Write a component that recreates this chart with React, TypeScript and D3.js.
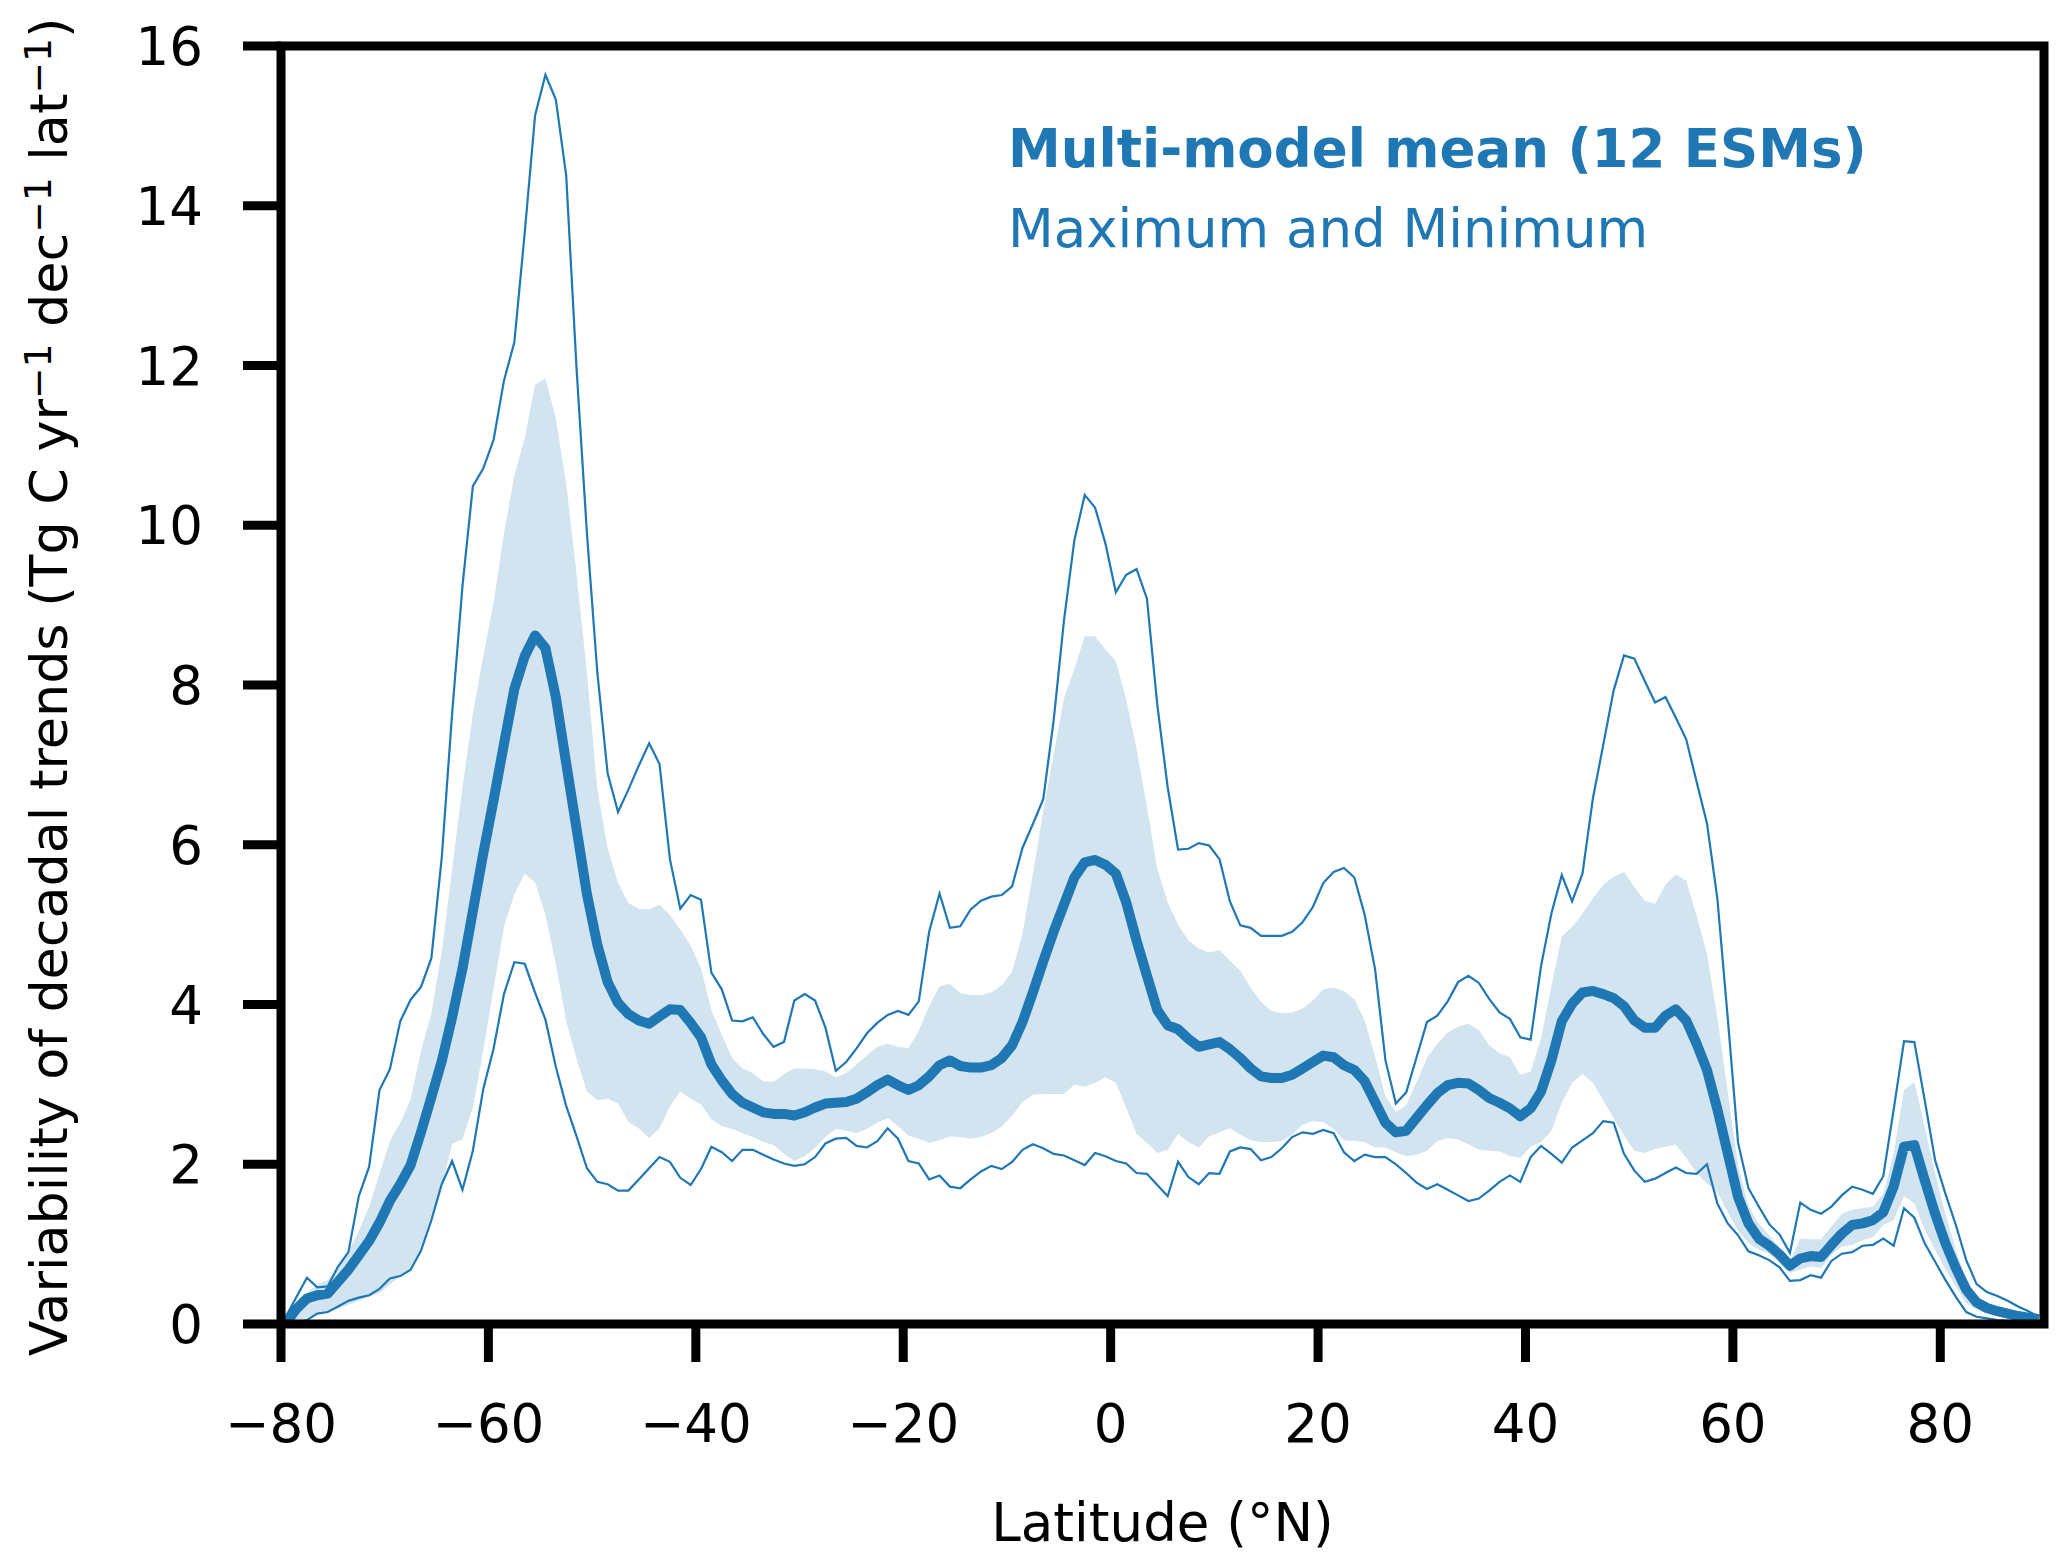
import * as d3 from "d3";

// latitude grid, 1 degree, cell centres
const lats = d3.range(-79.5, 90, 1);

const maxVals = [
  0.1, 0.34, 0.58, 0.46, 0.47, 0.72, 0.9, 1.6, 1.97, 2.93, 3.19, 3.79, 4.06, 4.22, 4.58, 5.84, 7.64, 9.24, 10.49, 10.71,
  11.07, 11.81, 12.29, 13.66, 15.13, 15.64, 15.33, 14.38, 11.96, 9.9, 8.16,
  6.89, 6.41, 6.69, 6.99, 7.27, 7.01, 5.82, 5.2, 5.37, 5.31, 4.4, 4.19, 3.8, 3.79, 3.84, 3.63, 3.47, 3.53, 4.05, 4.13,
  4.05, 3.71, 3.17, 3.28, 3.45, 3.64, 3.77, 3.87, 3.92, 3.87,
  4.04, 4.91, 5.39, 4.96, 4.98, 5.19, 5.3, 5.35, 5.37, 5.48, 5.96, 6.26, 6.57, 7.55, 8.81, 9.81, 10.38, 10.22, 9.77, 9.16,
  9.38, 9.45, 9.08, 7.75, 6.72, 5.94, 5.95, 6.02, 5.99, 5.82,
  5.29, 4.99, 4.96, 4.86, 4.86, 4.86, 4.91, 5.03, 5.22, 5.52, 5.66, 5.71, 5.59, 5.12, 4.44, 3.3, 2.76, 2.9, 3.34, 3.78,
  3.86, 4.04, 4.28, 4.36, 4.27, 4.07, 3.9, 3.82, 3.59, 3.56,
  4.48, 5.14, 5.62, 5.29, 5.64, 6.58, 7.25, 7.93, 8.37, 8.33, 8.05, 7.78, 7.85, 7.59, 7.32, 6.79, 6.27, 5.33, 3.84, 2.27,
  1.7, 1.47, 1.25, 1.12, 0.89,
  1.52, 1.43, 1.38, 1.47, 1.61, 1.72, 1.68, 1.63, 1.85, 2.68, 3.54, 3.53, 2.8, 2.05, 1.63, 1.24, 0.8, 0.5, 0.4, 0.35,
  0.29, 0.22, 0.16, 0.09,
];

const minVals = [
  0, 0.02, 0.05, 0.13, 0.15, 0.22, 0.29, 0.33, 0.36, 0.44, 0.57, 0.6, 0.68, 0.92, 1.3, 1.75, 2.04, 1.68, 2.17, 2.94,
  3.45, 4.13, 4.53, 4.51, 4.15, 3.81, 3.22, 2.73, 2.35, 1.95, 1.78,
  1.75, 1.67, 1.67, 1.81, 1.95, 2.09, 2.03, 1.83, 1.74, 1.94, 2.22, 2.15, 2.04, 2.18, 2.18, 2.12, 2.06, 2.01, 1.98, 2.0,
  2.09, 2.26, 2.32, 2.33, 2.23, 2.21, 2.29, 2.45, 2.32, 2.04,
  2.01, 1.81, 1.86, 1.72, 1.7, 1.81, 1.91, 1.98, 1.94, 2.03, 2.18, 2.25, 2.2, 2.13, 2.11, 2.05, 1.99, 2.14, 2.1, 2.04,
  2.01, 1.89, 1.88, 1.74, 1.6, 2.03, 1.84, 1.75, 1.89, 1.88,
  2.16, 2.21, 2.19, 2.05, 2.09, 2.2, 2.34, 2.4, 2.38, 2.43, 2.39, 2.15, 2.04, 2.12, 2.09, 2.09, 2.0, 1.89, 1.77, 1.69,
  1.75, 1.68, 1.61, 1.54, 1.57, 1.67, 1.78, 1.86, 1.78, 2.09,
  2.23, 2.13, 2.02, 2.21, 2.3, 2.39, 2.54, 2.52, 2.13, 1.92, 1.78, 1.82, 1.89, 1.96, 1.89, 1.88, 2.0, 1.51, 1.26, 1.11,
  0.91, 0.86, 0.8, 0.71, 0.54,
  0.55, 0.61, 0.58, 0.79, 0.88, 0.9, 0.98, 0.99, 1.07, 0.98, 1.45, 1.33, 1.01, 0.78, 0.55, 0.34, 0.15, 0.09, 0.07, 0.05,
  0.04, 0.03, 0.02, 0.01,
];

const meanVals = [
  0.02, 0.19, 0.32, 0.36, 0.38, 0.53, 0.68, 0.86, 1.04, 1.27, 1.54, 1.75, 1.99, 2.4, 2.84, 3.29, 3.84, 4.45, 5.17, 5.89,
  6.56, 7.26, 7.95, 8.36, 8.62, 8.46, 7.85, 7.02, 6.2, 5.38, 4.75,
  4.28, 4.02, 3.88, 3.8, 3.76, 3.85, 3.94, 3.93, 3.77, 3.59, 3.25, 3.05, 2.88, 2.77, 2.71, 2.65, 2.63, 2.63, 2.61, 2.65,
  2.71, 2.76, 2.77, 2.78, 2.82, 2.9, 2.99, 3.06, 2.99, 2.93,
  2.99, 3.1, 3.24, 3.3, 3.23, 3.21, 3.21, 3.24, 3.33, 3.49, 3.78, 4.15, 4.54, 4.91, 5.25, 5.59, 5.78, 5.81, 5.75, 5.64,
  5.28, 4.8, 4.36, 3.93, 3.74, 3.69, 3.57, 3.47, 3.5, 3.53,
  3.44, 3.33, 3.2, 3.1, 3.08, 3.08, 3.12, 3.2, 3.28, 3.36, 3.34, 3.24, 3.18, 3.04, 2.78, 2.52, 2.4, 2.42, 2.58, 2.74,
  2.89, 2.99, 3.02, 3.01, 2.93, 2.83, 2.77, 2.7, 2.6, 2.7,
  2.91, 3.3, 3.79, 4.01, 4.15, 4.17, 4.13, 4.08, 3.98, 3.8, 3.71, 3.71, 3.86, 3.94, 3.8, 3.51, 3.18, 2.69, 2.14, 1.59,
  1.26, 1.07, 0.98, 0.87, 0.73,
  0.82, 0.85, 0.84, 0.99, 1.13, 1.24, 1.26, 1.3, 1.4, 1.72, 2.22, 2.24, 1.8, 1.38, 1.01, 0.7, 0.43, 0.27, 0.2, 0.16,
  0.13, 0.1, 0.08, 0.06,
];

const bandHigh = [
  0.02, 0.24, 0.39, 0.49, 0.55, 0.7, 0.91, 1.16, 1.47, 1.88, 2.29, 2.52, 2.81, 3.42, 3.89, 4.66, 5.69, 6.72, 7.64, 8.36,
  9.03, 9.9, 10.62, 11.09, 11.76, 11.84, 11.34, 10.52, 9.39, 8.16, 6.7,
  5.95, 5.52, 5.27, 5.2, 5.19, 5.25, 5.12, 4.94, 4.74, 4.45, 3.93, 3.62, 3.33, 3.2, 3.14, 3.04, 3.03, 3.13, 3.2, 3.2,
  3.19, 3.16, 3.09, 3.14, 3.25, 3.36, 3.47, 3.51, 3.47, 3.45,
  3.67, 3.98, 4.23, 4.26, 4.14, 4.12, 4.12, 4.15, 4.24, 4.41, 4.89, 5.63, 6.42, 7.13, 7.83, 8.2, 8.61, 8.61, 8.44, 8.3,
  7.82, 7.2, 6.48, 5.7, 5.28, 5.0, 4.8, 4.7, 4.65, 4.68,
  4.55, 4.42, 4.21, 4.03, 3.92, 3.89, 3.9, 3.95, 4.05, 4.19, 4.21, 4.17, 4.07, 3.8, 3.35, 2.85, 2.65, 2.74, 3.03, 3.33,
  3.51, 3.65, 3.72, 3.76, 3.68, 3.49, 3.39, 3.34, 3.12, 3.16,
  3.57, 4.23, 4.85, 4.97, 5.14, 5.33, 5.5, 5.6, 5.66, 5.47, 5.3, 5.26, 5.5, 5.63, 5.55, 5.11, 4.64, 3.84, 2.91, 1.98,
  1.48, 1.26, 1.11, 0.96, 0.79,
  1.07, 1.06, 1.06, 1.22, 1.38, 1.43, 1.45, 1.47, 1.63, 2.13, 2.93, 3.03, 2.47, 1.88, 1.38, 0.93, 0.55, 0.34, 0.27, 0.22,
  0.18, 0.13, 0.1, 0.07,
];

const bandLow = [
  0, 0.02, 0.08, 0.13, 0.16, 0.19, 0.24, 0.29, 0.34, 0.39, 0.49, 0.6, 0.7, 0.96, 1.37, 1.73, 2.26, 2.31, 2.71, 3.42,
  4.2, 4.97, 5.38, 5.64, 5.53, 5.12, 4.51, 3.79, 3.32, 2.91, 2.8,
  2.82, 2.76, 2.53, 2.45, 2.33, 2.45, 2.73, 2.91, 2.82, 2.75, 2.56, 2.48, 2.44, 2.39, 2.34, 2.28, 2.24, 2.13, 2.04, 2.1,
  2.21, 2.34, 2.44, 2.42, 2.39, 2.44, 2.52, 2.58, 2.48, 2.36,
  2.32, 2.27, 2.3, 2.35, 2.34, 2.32, 2.34, 2.39, 2.47, 2.61, 2.78, 2.87, 2.88, 2.88, 2.88, 3.0, 2.97, 3.02, 3.09, 3.02,
  2.71, 2.38, 2.27, 2.14, 2.18, 2.38, 2.28, 2.21, 2.35, 2.4,
  2.45, 2.37, 2.3, 2.28, 2.28, 2.29, 2.37, 2.49, 2.54, 2.53, 2.44, 2.3, 2.29, 2.28, 2.21, 2.21, 2.15, 2.1, 2.12, 2.17,
  2.29, 2.33, 2.31, 2.25, 2.18, 2.17, 2.16, 2.1, 2.08, 2.22,
  2.28, 2.42, 2.77, 3.02, 3.13, 3.02, 2.8, 2.58, 2.36, 2.17, 2.14, 2.19, 2.22, 2.24, 2.08, 1.89, 1.76, 1.65, 1.4, 1.17,
  1.01, 0.93, 0.88, 0.76, 0.64,
  0.68, 0.72, 0.7, 0.86, 0.97, 0.99, 1.05, 1.09, 1.24, 1.3, 1.6, 1.51, 1.18, 0.93, 0.68, 0.47, 0.26, 0.18, 0.13, 0.1,
  0.08, 0.06, 0.05, 0.04,
];

const xTicks = [-80, -60, -40, -20, 0, 20, 40, 60, 80];
const yTicks = [0, 2, 4, 6, 8, 10, 12, 14, 16];

const W = 2067;
const H = 1565;
const margin = { top: 46, right: 23, bottom: 241, left: 281 };
const C0 = "#1f77b4";
const FONT = "'DejaVu Sans', sans-serif";

const fmt = (v: number) => (v < 0 ? "\u2212" + Math.abs(v) : String(v));

export default function App() {
  const x = d3.scaleLinear().domain([-80, 90]).range([margin.left, W - margin.right]);
  const y = d3.scaleLinear().domain([0, 16]).range([H - margin.bottom, margin.top]);

  const idx = lats.map((_, i) => i);
  const band = d3
    .area<number>()
    .x((i) => x(lats[i]))
    .y0((i) => y(bandLow[i]))
    .y1((i) => y(bandHigh[i]));
  const line = (vals: number[]) =>
    d3
      .line<number>()
      .x((i) => x(lats[i]))
      .y((i) => y(vals[i]))(idx)!;

  const x0 = x(-80);
  const x1 = x(90);
  const y0 = y(0);
  const y1 = y(16);
  const tickLen = 38;
  // superscript, then drop back to the baseline (with optional trailing text)
  const sup = (t: string, after: string) => (
    <>
      <tspan dy="-0.42em" fontSize="0.72em">
        {t}
      </tspan>
      <tspan dy="0.3em">{after}</tspan>
    </>
  );

  return (
    <svg
      width={W}
      height={H}
      style={{ position: "absolute", left: 0, top: 0, background: "#fff" }}
      fontFamily={FONT}
    >
      <defs>
        <clipPath id="plot">
          <rect x={x0} y={y1} width={x1 - x0} height={y0 - y1} />
        </clipPath>
      </defs>

      <g clipPath="url(#plot)">
        <path d={band(idx)!} fill={C0} fillOpacity={0.2} />
        <path d={line(maxVals)} fill="none" stroke={C0} strokeWidth={2.2} />
        <path d={line(minVals)} fill="none" stroke={C0} strokeWidth={2.2} />
        <path d={line(meanVals)} fill="none" stroke={C0} strokeWidth={10} strokeLinejoin="round" />
      </g>

      {/* frame */}
      <rect x={x0} y={y1} width={x1 - x0} height={y0 - y1} fill="none" stroke="#000" strokeWidth={9} />

      {/* y axis */}
      {yTicks.map((t) => (
        <g key={"y" + t}>
          <line x1={x0 - tickLen} x2={x0} y1={y(t)} y2={y(t)} stroke="#000" strokeWidth={9} />
          <text x={x0 - tickLen - 40} y={y(t)} dy="0.36em" textAnchor="end" fontSize={53}>
            {fmt(t)}
          </text>
        </g>
      ))}

      {/* x axis */}
      {xTicks.map((t) => (
        <g key={"x" + t}>
          <line x1={x(t)} x2={x(t)} y1={y0} y2={y0 + tickLen} stroke="#000" strokeWidth={9} />
          <text x={x(t)} y={1442} textAnchor="middle" fontSize={53}>
            {fmt(t)}
          </text>
        </g>
      ))}

      <text x={(x0 + x1) / 2} y={1541} textAnchor="middle" fontSize={53}>
        Latitude (°N)
      </text>

      <text transform={`translate(67,687) rotate(-90)`} textAnchor="middle" fontSize={52.3}>
        Variability of decadal trends (Tg C yr{sup("\u22121", " dec")}
        {sup("\u22121", " lat")}
        {sup("\u22121", ")")}
      </text>

      {/* legend */}
      <text x={1008} y={167} fontSize={53} fontWeight="bold" fill={C0}>
        Multi-model mean (12 ESMs)
      </text>
      <text x={1008} y={247} fontSize={53} fill={C0}>
        Maximum and Minimum
      </text>
    </svg>
  );
}
